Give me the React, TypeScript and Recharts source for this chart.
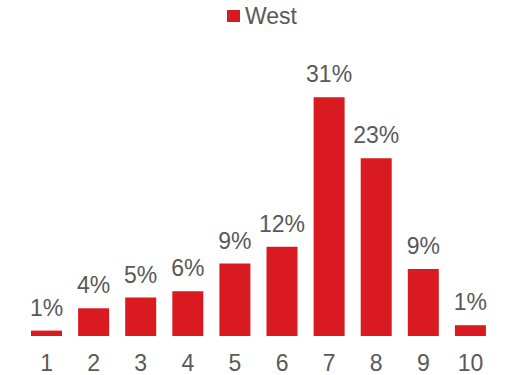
import React from "react";
import { BarChart, Bar, XAxis, YAxis, LabelList } from "recharts";

const categories = ["1", "2", "3", "4", "5", "6", "7", "8", "9", "10"];
const westValues = [0.7, 3.6, 5.0, 5.8, 9.4, 11.6, 31.0, 23.1, 8.7, 1.4];
const seriesName = "West";

const data = categories.map((c, i) => ({ cat: c, West: westValues[i] }));

const RED = "#D91A21";
const GRAY = "#595959";
const FONT = "'Liberation Sans', Arial, sans-serif";

export default function App() {
  return (
    <div style={{ position: "absolute", left: 0, top: 0, width: 508, height: 375, background: "#fff" }}>
      <div
        style={{
          position: "absolute",
          left: 227,
          top: 0,
          height: 32,
          display: "flex",
          alignItems: "center",
          fontFamily: FONT,
          fontSize: 23,
          color: GRAY,
          zIndex: 2,
        }}
      >
        <span
          style={{
            display: "inline-block",
            width: 13,
            height: 12,
            background: RED,
            marginRight: 5,
          }}
        />
        <span>{seriesName}</span>
      </div>
      <BarChart
        width={508}
        height={375}
        data={data}
        margin={{ top: 28, right: 14, bottom: 0, left: 23 }}
        barCategoryGap="17%"
      >
        <XAxis
          dataKey="cat"
          axisLine={false}
          tickLine={false}
          height={39}
          tickMargin={13}
          tick={{ fill: GRAY, fontSize: 23, fontFamily: FONT }}
          interval={0}
        />
        <YAxis hide domain={[0, 40]} />
        <Bar dataKey="West" fill={RED} isAnimationActive={false}>
          <LabelList
            dataKey="West"
            position="top"
            offset={15}
            formatter={(v: number) => `${Math.round(v)}%`}
            style={{ fill: GRAY, fontSize: 23, fontFamily: FONT }}
          />
        </Bar>
      </BarChart>
    </div>
  );
}
